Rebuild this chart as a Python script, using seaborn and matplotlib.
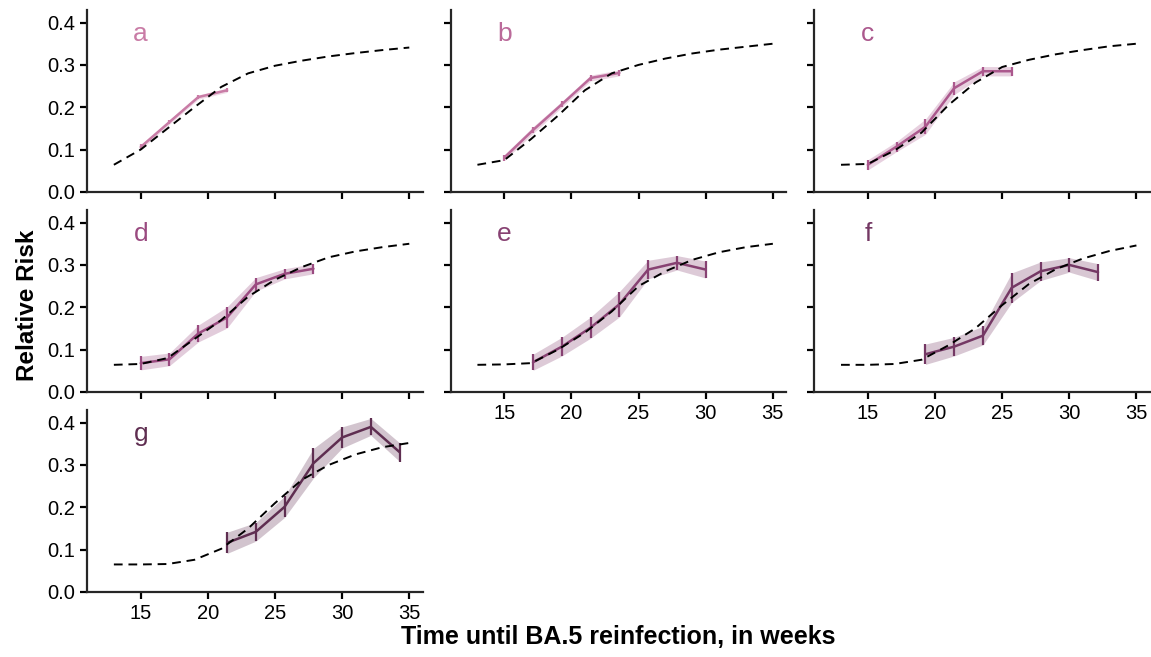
import numpy as np
import pandas as pd
import matplotlib
matplotlib.use("Agg")
import matplotlib.pyplot as plt
import seaborn as sns

sns.set_theme(style="ticks")
plt.rcParams['font.family'] = ['Liberation Sans', 'DejaVu Sans']
plt.rcParams['axes.linewidth'] = 1.6
plt.rcParams['xtick.major.width'] = 1.6
plt.rcParams['ytick.major.width'] = 1.6
plt.rcParams['xtick.major.size'] = 5
plt.rcParams['ytick.major.size'] = 5
plt.rcParams['text.color'] = 'black'

# --- DATA ---
panel_labels = ['a', 'b', 'c', 'd', 'e', 'f', 'g']
panel_colors = ['#c97ca6', '#bb6a9a', '#ab588d', '#9a4a80', '#874172', '#743864', '#5f2e51']

# dashed model curve, sampled every 2 weeks
fit_weeks = [13, 15, 17, 19, 21, 23, 25, 27, 29, 31, 33, 35]
fit_a = [0.064, 0.100, 0.150, 0.200, 0.248, 0.280, 0.298, 0.310, 0.320, 0.328, 0.335, 0.341]
fit_b = [0.064, 0.075, 0.125, 0.180, 0.240, 0.280, 0.300, 0.315, 0.327, 0.336, 0.343, 0.350]
fit_c = [0.064, 0.066, 0.098, 0.140, 0.205, 0.258, 0.295, 0.312, 0.325, 0.335, 0.344, 0.350]
fit_d = [0.064, 0.066, 0.080, 0.125, 0.170, 0.225, 0.265, 0.295, 0.318, 0.332, 0.342, 0.350]
fit_e = [0.064, 0.065, 0.068, 0.100, 0.140, 0.190, 0.250, 0.285, 0.312, 0.330, 0.342, 0.350]
fit_f = [0.064, 0.064, 0.066, 0.076, 0.110, 0.150, 0.205, 0.255, 0.290, 0.315, 0.333, 0.346]
fit_g = [0.065, 0.065, 0.066, 0.076, 0.102, 0.150, 0.210, 0.265, 0.300, 0.325, 0.342, 0.352]

# observed relative risk with 95% CI half-widths
a_x = [15.0, 17.14, 19.29, 21.43]
a_y = [0.106, 0.165, 0.224, 0.240]
a_ci = [0.006, 0.005, 0.005, 0.005]

b_x = [15.0, 17.14, 19.29, 21.43, 23.57]
b_y = [0.081, 0.146, 0.207, 0.269, 0.281]
b_ci = [0.007, 0.008, 0.007, 0.007, 0.007]

c_x = [15.0, 17.14, 19.29, 21.43, 23.57, 25.71]
c_y = [0.064, 0.107, 0.154, 0.245, 0.285, 0.285]
c_ci = [0.012, 0.012, 0.018, 0.015, 0.011, 0.011]

d_x = [15.0, 17.14, 19.29, 21.43, 23.57, 25.71, 27.86]
d_y = [0.068, 0.077, 0.138, 0.176, 0.254, 0.279, 0.291]
d_ci = [0.016, 0.015, 0.020, 0.025, 0.016, 0.012, 0.012]

e_x = [17.14, 19.29, 21.43, 23.57, 25.71, 27.86, 30.0]
e_y = [0.070, 0.107, 0.152, 0.207, 0.289, 0.305, 0.289]
e_ci = [0.019, 0.022, 0.025, 0.030, 0.022, 0.017, 0.020]

f_x = [19.29, 21.43, 23.57, 25.71, 27.86, 30.0, 32.14]
f_y = [0.089, 0.107, 0.133, 0.246, 0.285, 0.300, 0.283]
f_ci = [0.024, 0.022, 0.022, 0.035, 0.022, 0.017, 0.020]

g_x = [21.43, 23.57, 25.71, 27.86, 30.0, 32.14, 34.29]
g_y = [0.116, 0.142, 0.201, 0.304, 0.365, 0.390, 0.330]
g_ci = [0.025, 0.022, 0.025, 0.035, 0.025, 0.020, 0.022]

fits = [fit_a, fit_b, fit_c, fit_d, fit_e, fit_f, fit_g]
obs = [(a_x, a_y, a_ci), (b_x, b_y, b_ci), (c_x, c_y, c_ci), (d_x, d_y, d_ci),
       (e_x, e_y, e_ci), (f_x, f_y, f_ci), (g_x, g_y, g_ci)]

x_ticks = [15, 20, 25, 30, 35]
y_ticks = [0.0, 0.1, 0.2, 0.3, 0.4]

# --- PLOT ---
fig, axes = plt.subplots(3, 3, figsize=(11.51, 6.57), dpi=100)
fig.subplots_adjust(left=0.0756, right=0.999, bottom=0.099, top=0.985,
                    wspace=0.083, hspace=0.099)
axes = axes.flatten()
axes[7].remove()
axes[8].remove()

for i in range(7):
    ax = axes[i]
    col = panel_colors[i]
    xs, ys, cis = obs[i]
    df = pd.DataFrame({'week': xs, 'rr': ys, 'ci': cis})
    lo = df['rr'] - df['ci']
    hi = df['rr'] + df['ci']

    ax.fill_between(df['week'], lo, hi, color=col, alpha=0.28, linewidth=0)
    sns.lineplot(data=df, x='week', y='rr', color=col, linewidth=1.8, ax=ax)
    ax.vlines(df['week'], lo, hi, color=col, linewidth=1.6)

    sns.lineplot(x=fit_weeks, y=fits[i], color='black', linewidth=1.4,
                 linestyle=(0, (4.5, 3)), ax=ax)

    ax.text(15, 0.372, panel_labels[i], color=col, fontsize=19,
            ha='center', va='center')

    ax.set_xlim(11, 36)
    ax.set_ylim(0, 0.43)
    ax.set_xticks(x_ticks)
    ax.set_yticks(y_ticks)
    ax.set_xlabel('')
    ax.set_ylabel('')
    sns.despine(ax=ax)
    ax.tick_params(labelsize=14.5, colors='black')
    if i % 3 != 0:
        ax.set_yticklabels([])
    else:
        ax.set_yticklabels([f'{v:.1f}' for v in y_ticks])
    if i < 4:
        ax.set_xticklabels([])

fig.text(0.024, 0.535, 'Relative Risk', rotation=90, fontsize=17.5,
         fontweight='bold', ha='center', va='center', color='black')
fig.text(0.537, 0.030, 'Time until BA.5 reinfection, in weeks', fontsize=18,
         fontweight='bold', ha='center', va='center', color='black')

plt.savefig('out.png', dpi=100)
plt.close()
